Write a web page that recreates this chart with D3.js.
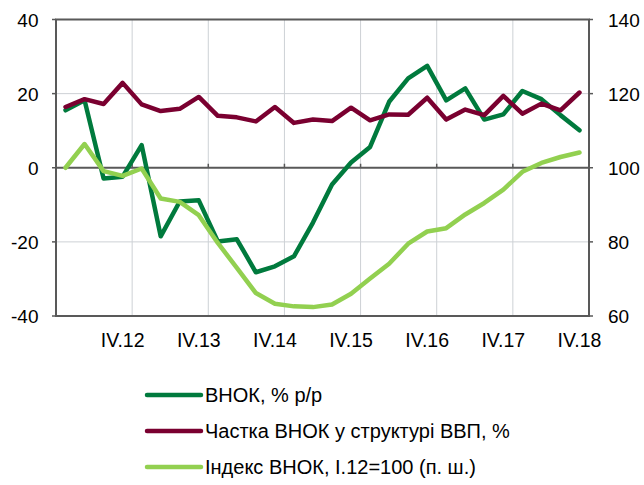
<!DOCTYPE html>
<html>
<head>
<meta charset="utf-8">
<script src="https://cdn.jsdelivr.net/npm/d3@7"></script>
<style>
  body { margin: 0; background: #fff; }
  svg text { font-family: "Liberation Sans", Arial, sans-serif; fill: #000; }
</style>
</head>
<body>
<svg id="chart" width="644" height="485"></svg>
<script>
// quarters I.12 .. IV.18
var quarters = [];
for (var yr = 12; yr <= 18; yr++) {
    ["I", "II", "III", "IV"].forEach(q => quarters.push(q + "." + yr));
}

var growth = [15.5, 18.2, -2.9, -2.4, 6.1, -18.5, -9.1, -8.8, -19.9, -19.3,
    -28.2, -26.6, -23.9, -14.8, -4.5, 1.4, 5.6, 17.8, 24.1, 27.5,
    18.2, 21.4, 13.0, 14.4, 20.7, 18.5, 14.2, 10.1];

var share = [16.4, 18.5, 17.2, 22.9, 17.1, 15.3, 15.9, 19.1, 14.0, 13.6,
    12.5, 16.4, 12.1, 13.0, 12.6, 16.2, 12.8, 14.4, 14.3, 18.9,
    13.0, 15.7, 14.2, 19.4, 14.6, 17.3, 15.5, 20.3];

var indexValues = [100, 106.4, 99.1, 97.8, 99.8, 91.7, 90.8, 87.2, 79.7, 73.0,
    66.2, 63.3, 62.6, 62.4, 63.1, 66.0, 70.1, 74.1, 79.5, 82.8,
    83.7, 87.4, 90.5, 94.1, 98.9, 101.3, 102.9, 104.1];

var leftTicks = [-40, -20, 0, 20, 40];
var rightTicks = [60, 80, 100, 120, 140];

var legendItems = [
    { name: "ВНОК, % р/р", color: "#007a3d" },
    { name: "Частка ВНОК у структурі ВВП, %", color: "#7a0030" },
    { name: "Індекс ВНОК, І.12=100 (п. ш.)", color: "#92d050" }
];

var plotLeft = 56, plotRight = 589, plotTop = 19.5, plotBottom = 316;

var svg = d3.select("#chart");

var x = d3.scaleBand()
    .domain(quarters)
    .range([plotLeft, plotRight]);

var yL = d3.scaleLinear().domain([-40, 40]).range([plotBottom, plotTop]);
var yR = d3.scaleLinear().domain([60, 140]).range([plotBottom, plotTop]);

var cx = d => x(d) + x.bandwidth() / 2;

// gridlines
var grid = svg.append("g");
grid.selectAll(".hg")
    .data([-20, 20])
    .enter()
    .append("line")
    .attr("x1", plotLeft)
    .attr("x2", plotRight)
    .attr("y1", d => yL(d))
    .attr("y2", d => yL(d))
    .attr("stroke", "#cdd1d5")
    .attr("stroke-width", 1);

var yearStarts = quarters.filter((q, i) => i > 0 && i % 4 === 0);
grid.selectAll(".vg")
    .data(yearStarts)
    .enter()
    .append("line")
    .attr("x1", d => x(d))
    .attr("x2", d => x(d))
    .attr("y1", plotTop)
    .attr("y2", plotBottom)
    .attr("stroke", "#cdd1d5")
    .attr("stroke-width", 1);

// frame
var axisColor = "#595959";
svg.append("rect")
    .attr("x", plotLeft)
    .attr("y", plotTop)
    .attr("width", plotRight - plotLeft)
    .attr("height", plotBottom - plotTop)
    .attr("fill", "none")
    .attr("stroke", axisColor)
    .attr("stroke-width", 2);

// zero line with small ticks
svg.append("line")
    .attr("x1", plotLeft)
    .attr("x2", plotRight)
    .attr("y1", yL(0))
    .attr("y2", yL(0))
    .attr("stroke", axisColor)
    .attr("stroke-width", 2);
svg.selectAll(".zt")
    .data(yearStarts)
    .enter()
    .append("line")
    .attr("x1", d => x(d))
    .attr("x2", d => x(d))
    .attr("y1", yL(0))
    .attr("y2", yL(0) - 4)
    .attr("stroke", axisColor)
    .attr("stroke-width", 1.5);

// side ticks
svg.selectAll(".lt")
    .data(leftTicks)
    .enter()
    .append("line")
    .attr("x1", plotLeft - 4)
    .attr("x2", plotLeft)
    .attr("y1", d => yL(d))
    .attr("y2", d => yL(d))
    .attr("stroke", axisColor)
    .attr("stroke-width", 1.5);
svg.selectAll(".rt")
    .data(rightTicks)
    .enter()
    .append("line")
    .attr("x1", plotRight)
    .attr("x2", plotRight + 4)
    .attr("y1", d => yR(d))
    .attr("y2", d => yR(d))
    .attr("stroke", axisColor)
    .attr("stroke-width", 1.5);

// tick labels
svg.selectAll(".ll")
    .data(leftTicks)
    .enter()
    .append("text")
    .attr("x", 38.5)
    .attr("y", d => yL(d) + 7)
    .attr("text-anchor", "end")
    .attr("font-size", 19)
    .text(d => d);

svg.selectAll(".rl")
    .data(rightTicks)
    .enter()
    .append("text")
    .attr("x", 608)
    .attr("y", d => yR(d) + 7)
    .attr("font-size", 19)
    .text(d => d);

svg.selectAll(".xl")
    .data(quarters.filter(q => q.startsWith("IV.")))
    .enter()
    .append("text")
    .attr("x", d => cx(d))
    .attr("y", 347)
    .attr("text-anchor", "middle")
    .attr("font-size", 19.5)
    .text(d => d);

// lines
function drawLine(values, scale, color) {
    var line = d3.line()
        .x((d, i) => cx(quarters[i]))
        .y(d => scale(d));
    svg.append("path")
        .datum(values)
        .attr("d", line)
        .attr("fill", "none")
        .attr("stroke", color)
        .attr("stroke-width", 4.5)
        .attr("stroke-linejoin", "round")
        .attr("stroke-linecap", "round");
}

drawLine(growth, yL, legendItems[0].color);
drawLine(share, yL, legendItems[1].color);
drawLine(indexValues, yR, legendItems[2].color);

// legend
var legend = svg.append("g");
var rows = legend.selectAll("g")
    .data(legendItems)
    .enter()
    .append("g")
    .attr("transform", (d, i) => "translate(147," + (395 + i * 36) + ")");
rows.append("line")
    .attr("x1", 0)
    .attr("x2", 54)
    .attr("stroke", d => d.color)
    .attr("stroke-width", 4.5)
    .attr("stroke-linecap", "round");
rows.append("text")
    .attr("x", 58)
    .attr("y", 7)
    .attr("font-size", 20)
    .text(d => d.name);
</script>
</body>
</html>
